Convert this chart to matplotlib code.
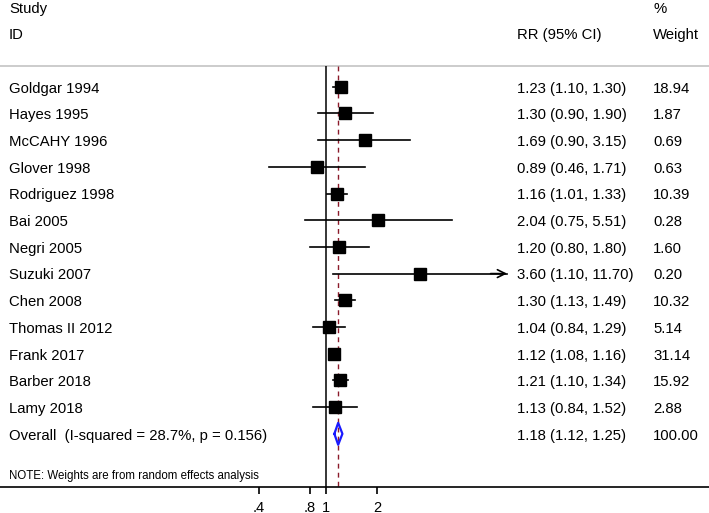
import numpy as np, matplotlib
matplotlib.use('Agg')
import matplotlib.pyplot as plt

plt.rcParams['font.family'] = ['Liberation Sans', 'DejaVu Sans']

# ---- data ----
studies = ['Goldgar 1994', 'Hayes 1995', 'McCAHY 1996', 'Glover 1998',
           'Rodriguez 1998', 'Bai 2005', 'Negri 2005', 'Suzuki 2007',
           'Chen 2008', 'Thomas II 2012', 'Frank 2017', 'Barber 2018',
           'Lamy 2018']
rr     = [1.23, 1.30, 1.69, 0.89, 1.16, 2.04, 1.20, 3.60, 1.30, 1.04, 1.12, 1.21, 1.13]
lo     = [1.10, 0.90, 0.90, 0.46, 1.01, 0.75, 0.80, 1.10, 1.13, 0.84, 1.08, 1.10, 0.84]
hi     = [1.30, 1.90, 3.15, 1.71, 1.33, 5.51, 1.80, 11.70, 1.49, 1.29, 1.16, 1.34, 1.52]
weight = [18.94, 1.87, 0.69, 0.63, 10.39, 0.28, 1.60, 0.20, 10.32, 5.14, 31.14, 15.92, 2.88]
overall = (1.18, 1.12, 1.25)
overall_label = 'Overall  (I-squared = 28.7%, p = 0.156)'
xticks = [0.4, 0.8, 1, 2]
xticklabels = ['.4', '.8', '1', '2']

# ---- figure ----
W, H = 709, 513
row0, drow = 86.7, 26.7
fig = plt.figure(figsize=(W/100, H/100), dpi=100, facecolor='white')
ax = fig.add_axes([0, 0, 1, 1])
ax.set_xscale('log')
ax.set_xlim(np.exp(-326/73.6), np.exp((W-326)/73.6))
ax.set_ylim((H-row0)/drow, -row0/drow)
for s in ['top', 'left', 'right']:
    ax.spines[s].set_visible(False)
ax.spines['bottom'].set_position(('data', 15.0))
ax.spines['bottom'].set_linewidth(1.2)
ax.set_yticks([])
ax.set_xticks(xticks)
ax.set_xticklabels(xticklabels, fontsize=10.5)
ax.minorticks_off()
ax.tick_params(axis='x', direction='out', length=5, width=1.2, pad=5)

fs = 10.7
dy = 0.07  # nudge text down to centre caps on the row
tr = ax.get_yaxis_transform()  # x in axes fraction, y in data
x_id, x_rr, x_w = 9/W, 517/W, 653/W

ax.text(x_id, -2.92, 'Study', transform=tr, fontsize=fs, va='center')
ax.text(x_id, -2.01 + dy, 'ID', transform=tr, fontsize=fs, va='center')
ax.text(x_rr, -2.01 + dy, 'RR (95% CI)', transform=tr, fontsize=fs, va='center')
ax.text(x_w, -2.92, '%', transform=tr, fontsize=fs, va='center')
ax.text(x_w, -2.01 + dy, 'Weight', transform=tr, fontsize=fs, va='center')
ax.plot([0, 1], [-0.775, -0.775], transform=tr, color='#c8c8c8', lw=1.3)

ax.vlines(1, -0.775, 15.0, color='black', lw=1.1)
ax.vlines(overall[0], -0.775, 15.0, color='#8b1a2a', lw=1.0, linestyles=(0, (3.5, 3)))

for i, name in enumerate(studies):
    ax.text(x_id, i + dy, name, transform=tr, fontsize=fs, va='center')
    ax.text(x_rr, i + dy, f'{rr[i]:.2f} ({lo[i]:.2f}, {hi[i]:.2f})', transform=tr, fontsize=fs, va='center')
    ax.text(x_w, i + dy, f'{weight[i]:.2f}', transform=tr, fontsize=fs, va='center')
    ax.plot([lo[i], hi[i]], [i, i], color='black', lw=1.2)
    if name == 'Suzuki 2007':
        ax.annotate('', xy=(hi[i], i), xytext=(hi[i] * 0.8, i),
                    arrowprops=dict(arrowstyle='->', color='black', lw=1.2,
                                    mutation_scale=14, shrinkA=0, shrinkB=0))
    ax.plot(rr[i], i, marker='s', ms=9.2, color='black', zorder=5)

n = len(studies)
ax.text(x_id, n + dy, overall_label, transform=tr, fontsize=fs, va='center')
ax.text(x_rr, n + dy, f'{overall[0]:.2f} ({overall[1]:.2f}, {overall[2]:.2f})', transform=tr, fontsize=fs, va='center')
ax.text(x_w, n + dy, '100.00', transform=tr, fontsize=fs, va='center')
ax.plot([overall[1], overall[0], overall[2], overall[0], overall[1]],
        [n, n - 0.41, n, n + 0.41, n], color='#1a1aff', lw=1.6, zorder=5)

ax.text(x_id, 14.5 + dy, 'NOTE: Weights are from random effects analysis', transform=tr,
        fontsize=8.3, va='center')

plt.savefig('out.png', dpi=100, facecolor='white')
